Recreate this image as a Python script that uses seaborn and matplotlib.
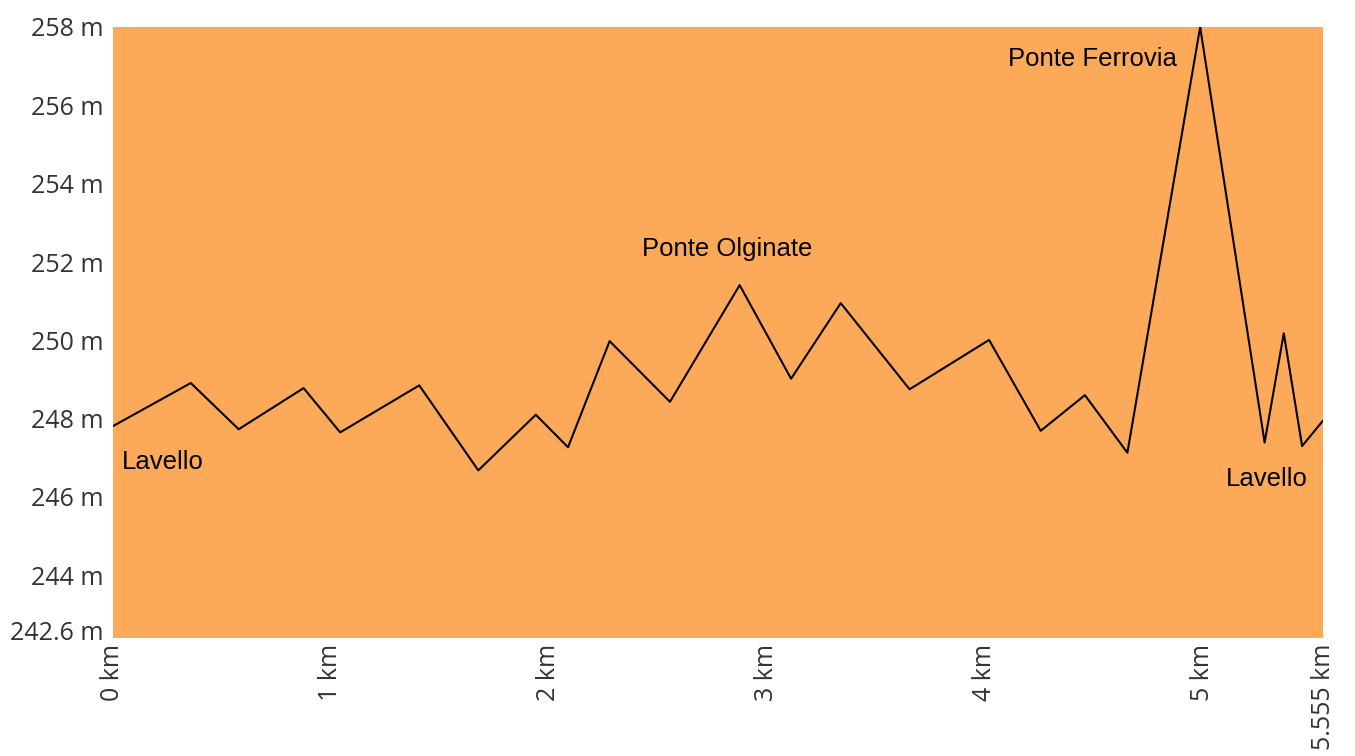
import matplotlib
matplotlib.use("Agg")
import matplotlib.pyplot as plt
import seaborn as sns
import pandas as pd

distance_km = [0.0, 0.357, 0.577, 0.875, 1.043, 1.406, 1.677, 1.941, 2.089, 2.280,
               2.557, 2.877, 3.113, 3.341, 3.657, 4.022, 4.259, 4.462, 4.657, 4.991,
               5.287, 5.375, 5.459, 5.555]
elevation_m = [247.81, 248.91, 247.73, 248.78, 247.65, 248.85, 246.68, 248.10, 247.27, 249.98,
               248.43, 251.41, 249.02, 250.95, 248.75, 250.01, 247.69, 248.60, 247.13, 258.0,
               247.39, 250.18, 247.30, 247.95]
x_ticks = [0, 1, 2, 3, 4, 5, 5.555]
x_tick_labels = ["0 km", "1 km", "2 km", "3 km", "4 km", "5 km", "5.555 km"]
y_ticks = [242.6, 244, 246, 248, 250, 252, 254, 256, 258]
y_tick_labels = ["242.6 m", "244 m", "246 m", "248 m", "250 m", "252 m", "254 m", "256 m", "258 m"]
place_names = ["Lavello", "Ponte Olginate", "Ponte Ferrovia", "Lavello"]
place_x = [0.041, 2.43, 4.109, 5.11]
place_y = [246.9, 252.32, 257.18, 246.47]

sns.set_style("white")
plt.rcParams['font.family'] = ['Liberation Sans', 'DejaVu Sans']

fig = plt.figure(figsize=(13.55, 7.56), dpi=100)
ax = fig.add_axes([113/1355, 1 - 638/756, (1323-113)/1355, (638-27)/756])
ax.set_facecolor('#fca95a')

df = pd.DataFrame({"km": distance_km, "m": elevation_m})
sns.lineplot(data=df, x="km", y="m", ax=ax, color="black", linewidth=1.5)

ax.set_xlim(0, 5.555)
ax.set_ylim(242.4, 258)
ax.set_xticks(x_ticks)
ax.set_xticklabels(x_tick_labels, rotation=90, fontsize=18, color="#333333", family=['Open Sans', 'DejaVu Sans'])
ax.set_yticks(y_ticks)
ax.set_yticklabels(y_tick_labels, fontsize=18, color="#333333", family=['Open Sans', 'DejaVu Sans'])
ax.tick_params(axis='y', length=0, pad=6.5)
ax.tick_params(axis='x', length=0, pad=4)
ax.set_xlabel("")
ax.set_ylabel("")
for s in ax.spines.values():
    s.set_visible(False)

for name, px, py in zip(place_names, place_x, place_y):
    ax.text(px, py, name, fontsize=18.5, color="black", ha="left", va="center")

fig.savefig("out.png", dpi=100)
